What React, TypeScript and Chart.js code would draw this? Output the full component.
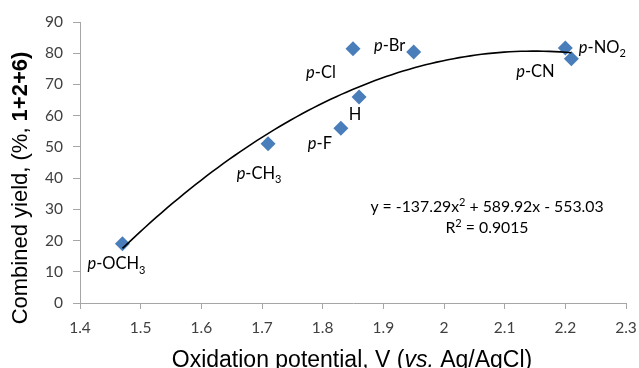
import { useEffect, useRef } from "react";
import { Chart, registerables } from "chart.js";

Chart.register(...registerables);

// ---------- data ----------
const substituents = ["p-OCH3", "p-CH3", "p-F", "H", "p-Cl", "p-Br", "p-CN", "p-NO2"];
const oxidationPotential = [1.47, 1.71, 1.83, 1.86, 1.85, 1.95, 2.21, 2.2];
const combinedYield = [19, 51, 56, 66, 81.4, 80.4, 78.2, 81.7];
// trendline y = a x^2 + b x + c
const trendCoefficients = [-137.29, 589.92, -553.03];
const trendRange = [1.47, 2.21];
const rSquared = "0.9015";
const xTickValues = [1.4, 1.5, 1.6, 1.7, 1.8, 1.9, 2.0, 2.1, 2.2, 2.3];
const xTickLabels = ["1.4", "1.5", "1.6", "1.7", "1.8", "1.9", "2", "2.1", "2.2", "2.3"];
const yTickValues = [0, 10, 20, 30, 40, 50, 60, 70, 80, 90];

// ---------- label styling (rich text pieces + offsets from marker, px) ----------
type Seg = { t: string; i?: boolean; b?: boolean; sub?: boolean; sup?: boolean };
const labelSegments: Seg[][] = [
  [{ t: "p", i: true }, { t: "-OCH" }, { t: "3", sub: true }],
  [{ t: "p", i: true }, { t: "-CH" }, { t: "3", sub: true }],
  [{ t: "p", i: true }, { t: "-F" }],
  [{ t: "H" }],
  [{ t: "p", i: true }, { t: "-Cl" }],
  [{ t: "p", i: true }, { t: "-Br" }],
  [{ t: "p", i: true }, { t: "-CN" }],
  [{ t: "p", i: true }, { t: "-NO" }, { t: "2", sub: true }],
];
const labelOffsets: [number, number][] = [
  [-6, 20],
  [-9, 29],
  [-21, 15],
  [-4, 17],
  [-32, 23],
  [-24, -7],
  [-36, 12],
  [37, -1],
];

const LABEL_FONT = "Lato, 'Open Sans', sans-serif";
const TITLE_FONT = "'Liberation Sans', Arial, sans-serif";

function segFont(s: Seg, size: number, family: string) {
  const sz = s.sub || s.sup ? Math.round(size * 0.68) : size;
  return `${s.i ? "italic " : ""}${s.b ? "bold " : ""}${sz}px ${family}`;
}

function drawRich(
  ctx: CanvasRenderingContext2D,
  segs: Seg[],
  cx: number,
  cy: number,
  size: number,
  family: string,
  color: string
) {
  const widths = segs.map((s) => {
    ctx.font = segFont(s, size, family);
    return ctx.measureText(s.t).width;
  });
  const total = widths.reduce((a, b) => a + b, 0);
  let x = cx - total / 2;
  const base = cy + size * 0.35;
  ctx.fillStyle = color;
  ctx.textAlign = "left";
  ctx.textBaseline = "alphabetic";
  segs.forEach((s, k) => {
    ctx.font = segFont(s, size, family);
    const dy = s.sub ? size * 0.28 : s.sup ? -size * 0.38 : 0;
    ctx.fillText(s.t, x, base + dy);
    x += widths[k];
  });
}

const fmt = (v: number) => Math.abs(v).toFixed(2);

const annotationsPlugin = {
  id: "annotations",
  afterDraw(chart: any) {
    const ctx: CanvasRenderingContext2D = chart.ctx;
    const xs = chart.scales.x;
    const ys = chart.scales.y;
    ctx.save();
    // point labels
    substituents.forEach((_, i) => {
      const px = xs.getPixelForValue(oxidationPotential[i]);
      const py = ys.getPixelForValue(combinedYield[i]);
      const [dx, dy] = labelOffsets[i];
      drawRich(ctx, labelSegments[i], px + dx, py + dy, 16.5, LABEL_FONT, "#000000");
    });
    // equation
    const [a, b, c] = trendCoefficients;
    const eq: Seg[] = [
      { t: `y = ${a < 0 ? "-" : ""}${fmt(a)}x` },
      { t: "2", sup: true },
      { t: ` ${b < 0 ? "-" : "+"} ${fmt(b)}x ${c < 0 ? "-" : "+"} ${fmt(c)}` },
    ];
    drawRich(ctx, eq, 487, 206, 15.8, LABEL_FONT, "#000000");
    drawRich(ctx, [{ t: "R" }, { t: "2", sup: true }, { t: ` = ${rSquared}` }], 487, 227, 15.8, LABEL_FONT, "#000000");
    // x axis title
    drawRich(
      ctx,
      [{ t: "Oxidation potential, V (" }, { t: "vs.", i: true }, { t: " Ag/AgCl)" }],
      352,
      359,
      23,
      TITLE_FONT,
      "#000000"
    );
    // y axis title
    ctx.translate(19.5, 188);
    ctx.rotate(-Math.PI / 2);
    drawRich(
      ctx,
      [{ t: "Combined yield, (%, " }, { t: "1+2+6)", b: true }],
      0,
      0,
      22,
      TITLE_FONT,
      "#000000"
    );
    ctx.restore();
  },
};

export default function App() {
  const ref = useRef<HTMLCanvasElement | null>(null);
  useEffect(() => {
    if (!ref.current) return;
    const trendPoints: { x: number; y: number }[] = [];
    const [a, b, c] = trendCoefficients;
    const steps = 80;
    for (let k = 0; k <= steps; k++) {
      const x = trendRange[0] + ((trendRange[1] - trendRange[0]) * k) / steps;
      trendPoints.push({ x, y: a * x * x + b * x + c });
    }
    const axisColor = "#a6a6a6";
    const chart = new Chart(ref.current, {
      type: "scatter",
      data: {
        datasets: [
          {
            label: "trend",
            data: trendPoints,
            showLine: true,
            borderColor: "#000000",
            borderWidth: 1.6,
            pointRadius: 0,
            order: 0,
          } as any,
          {
            label: "yield",
            data: oxidationPotential.map((x, i) => ({ x, y: combinedYield[i] })),
            pointStyle: "rectRot",
            pointRadius: 7.5,
            backgroundColor: "#4a7ebb",
            borderColor: "#4a7ebb",
            borderWidth: 0,
            order: 1,
          },
        ],
      },
      options: {
        animation: false,
        responsive: true,
        maintainAspectRatio: false,
        layout: { padding: { top: 22, right: 13, left: 0, bottom: 0 } },
        plugins: { legend: { display: false }, tooltip: { enabled: false } },
        scales: {
          x: {
            type: "linear",
            min: 1.4,
            max: 2.3,
            afterBuildTicks: (s: any) => {
              s.ticks = xTickValues.map((v) => ({ value: v }));
            },
            afterFit: (s: any) => {
              s.height = 65;
              s.paddingRight = 0;
              s.paddingLeft = 0;
            },
            ticks: {
              callback: (_v: any, i: number) => xTickLabels[i],
              font: { family: LABEL_FONT, size: 15.5 },
              color: "#404040",
              padding: 10,
              maxRotation: 0,
              autoSkip: false,
            },
            grid: { drawOnChartArea: false, drawTicks: true, tickLength: 6, color: axisColor },
            border: { display: true, color: axisColor, width: 1 },
          },
          y: {
            type: "linear",
            min: 0,
            max: 90,
            afterBuildTicks: (s: any) => {
              s.ticks = yTickValues.map((v) => ({ value: v }));
            },
            afterFit: (s: any) => {
              s.width = 80;
              s.paddingTop = 0;
              s.paddingBottom = 0;
            },
            ticks: {
              font: { family: LABEL_FONT, size: 15.5 },
              color: "#404040",
              padding: 10,
            },
            grid: { drawOnChartArea: false, drawTicks: true, tickLength: 7, color: axisColor },
            border: { display: true, color: axisColor, width: 1 },
          },
        },
      },
      plugins: [annotationsPlugin],
    });
    return () => chart.destroy();
  }, []);
  return (
    <div style={{ position: "fixed", left: 0, top: 0, width: 639, height: 368, background: "#fff" }}>
      <canvas ref={ref} />
    </div>
  );
}
